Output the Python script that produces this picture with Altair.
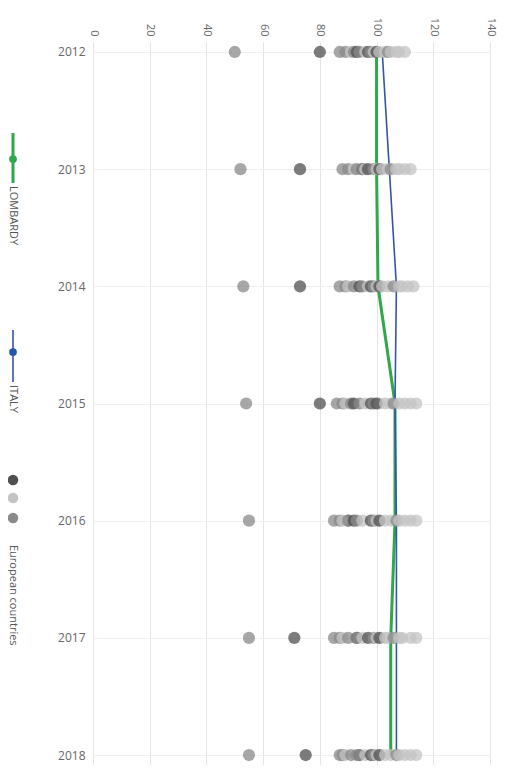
import altair as alt
import pandas as pd

years = ["2012", "2013", "2014", "2015", "2016", "2017", "2018"]

lombardy = [100, 100, 100.5, 106.5, 106.5, 105, 105]
italy = [102, 104.5, 107, 106.5, 107, 107, 107]

# European countries: (shade, values per year)
country_shades = ["medium", "dark", "medium", "medium", "light", "medium", "dark",
                  "medium", "light", "dark", "medium", "light", "dark", "light",
                  "light", "medium", "light", "light", "light", "light"]
country_values = [
    [50, 52, 53, 54, 55, 55, 55],
    [80, 73, 73, 80, 90, 71, 75],
    [87, 88, 87, 86, 85, 85, 87],
    [89, 90, 89, 88, 87, 87, 88],
    [91, 92, 90, 89, 88, 88, 89],
    [92, 93, 92, 91, 90, 90, 91],
    [93, 95, 94, 92, 92, 93, 94],
    [94, 95, 95, 94, 93, 93, 93],
    [96, 96, 97, 96, 95, 95, 96],
    [97, 97, 98, 98, 98, 97, 98],
    [98, 99, 99, 99, 99, 99, 99],
    [99, 100, 100, 101, 100, 100, 100],
    [100, 101, 101, 100, 101, 101, 101],
    [101, 102, 102, 103, 103, 103, 103],
    [103, 104, 104, 105, 105, 104, 105],
    [104, 105, 106, 106, 107, 106, 107],
    [105, 107, 108, 108, 108, 108, 108],
    [107, 108, 109, 110, 110, 109, 110],
    [108, 110, 111, 112, 112, 112, 112],
    [110, 112, 113, 114, 114, 114, 114],
]

shade_names = ["dark", "light", "medium"]
shade_colors = ["#505050", "#c4c4c4", "#8a8a8a"]

GREEN = "#2ea84a"
BLUE = "#3454a4"
FONT = "Open Sans"

rows = []
for i, vals in enumerate(country_values):
    for y, v in zip(years, vals):
        rows.append({"country": f"c{i}", "shade": country_shades[i], "year": y, "value": v})
eu = pd.DataFrame(rows)

lomb_df = pd.DataFrame({"year": years, "value": lombardy})
italy_df = pd.DataFrame({"year": years, "value": italy})

W, H = 397, 723

xenc = alt.X("value:Q", scale=alt.Scale(domain=[0, 140], nice=False, zero=False),
             axis=alt.Axis(orient="top", values=[0, 20, 40, 60, 80, 100, 120, 140],
                           labelAngle=90, labelColor="#666", labelFontSize=11,
                           labelFont=FONT, labelPadding=6, ticks=False, domain=False,
                           gridColor="#e4e4e4", title=None, minExtent=34, maxExtent=34))
yenc = alt.Y("year:O", scale=alt.Scale(domain=years, padding=0.085),
             axis=alt.Axis(labelColor="#666", labelFontSize=12, labelFont=FONT,
                           labelPadding=8, ticks=False, domain=False, grid=True,
                           gridColor="#efefef", title=None, labelAngle=0))

lomb_layer = alt.Chart(lomb_df).mark_line(color=GREEN, strokeWidth=3).encode(x=xenc, y=yenc)
italy_layer = alt.Chart(italy_df).mark_line(color=BLUE, strokeWidth=1.6).encode(x="value:Q", y="year:O")

point_layer = alt.Chart(eu).mark_circle(size=150, opacity=0.75).encode(
    x="value:Q", y="year:O",
    color=alt.Color("shade:N", scale=alt.Scale(domain=shade_names, range=shade_colors), legend=None),
)

one = pd.DataFrame({"a": [0]})
LX = -80
leg = []
# LOMBARDY
leg.append(alt.Chart(one).mark_rule(color=GREEN, strokeWidth=3).encode(x=alt.value(LX), y=alt.value(91), y2=alt.value(141)))
leg.append(alt.Chart(one).mark_circle(color=GREEN, size=60, opacity=1).encode(x=alt.value(LX), y=alt.value(117)))
leg.append(alt.Chart(one).mark_text(text="LOMBARDY", angle=90, align="left", baseline="middle",
                                     fontSize=11, font=FONT, color="#555").encode(x=alt.value(LX), y=alt.value(144)))
# ITALY
leg.append(alt.Chart(one).mark_rule(color=BLUE, strokeWidth=1.6).encode(x=alt.value(LX), y=alt.value(288), y2=alt.value(340)))
leg.append(alt.Chart(one).mark_circle(color="#1f5aa8", size=60, opacity=1).encode(x=alt.value(LX), y=alt.value(310)))
leg.append(alt.Chart(one).mark_text(text="ITALY", angle=90, align="left", baseline="middle",
                                     fontSize=11, font=FONT, color="#555").encode(x=alt.value(LX), y=alt.value(343)))
# European countries
for yy, c in zip([438, 456, 476], shade_colors):
    leg.append(alt.Chart(one).mark_circle(color=c, size=110, opacity=1).encode(x=alt.value(LX), y=alt.value(yy)))
leg.append(alt.Chart(one).mark_text(text="European countries", angle=90, align="left", baseline="middle",
                                     fontSize=11, font=FONT, color="#555").encode(x=alt.value(LX), y=alt.value(503)))

chart = alt.layer(lomb_layer, italy_layer, point_layer, *leg).properties(
    width=W, height=H,
    autosize=alt.AutoSizeParams(type="none"),
    padding={"left": 85, "top": 34, "right": 11, "bottom": 0},
).configure_view(stroke=None).configure_axis(gridWidth=1)

chart.save("out.html", embed_options={"renderer": "svg", "actions": False})
